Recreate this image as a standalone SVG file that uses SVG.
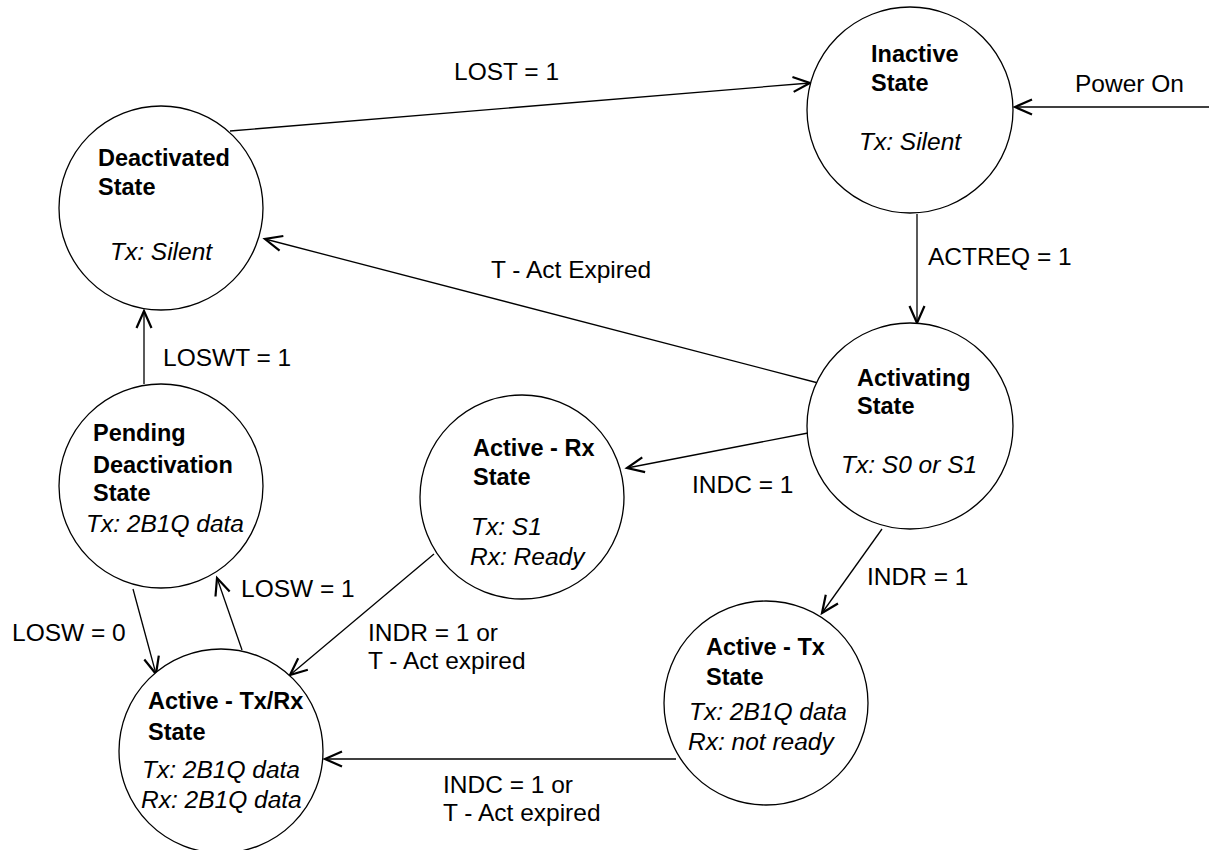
<svg xmlns="http://www.w3.org/2000/svg" width="1209" height="850" viewBox="0 0 1209 850">
  <style>
    .state { fill: #fff; stroke: #000; stroke-width: 1.3; }
    .title { font-family: "Liberation Sans", Arial, sans-serif; font-size: 23.5px; font-weight: bold; fill: #000; }
    .info { font-family: "Liberation Sans", Arial, sans-serif; font-size: 24.5px; font-style: italic; fill: #000; }
    .label { font-family: "Liberation Sans", Arial, sans-serif; font-size: 24.5px; fill: #000; }
    .edge { fill: none; stroke: #000; stroke-width: 1.3; marker-end: url(#arrow); }
  </style>
  <defs>
    <marker id="arrow" viewBox="-20 -10 22 20" refX="0" refY="0" markerWidth="22" markerHeight="20" orient="auto" markerUnits="userSpaceOnUse" overflow="visible">
      <path d="M-17,-7.5 L0,0 L-17,7.5" fill="none" stroke="#000" stroke-width="2.2" stroke-linejoin="miter"/>
    </marker>
  </defs>
  <rect width="1209" height="850" fill="#fff"/>

  <!-- transitions -->
  <g id="connectors">
    <line class="edge" x1="230" y1="131" x2="810" y2="83"/>
    <line class="edge" x1="1209" y1="107" x2="1015" y2="107"/>
    <line class="edge" x1="917" y1="214" x2="917" y2="323"/>
    <line class="edge" x1="822" y1="384" x2="265" y2="239"/>
    <line class="edge" x1="808" y1="433" x2="627" y2="468"/>
    <line class="edge" x1="882" y1="529" x2="822" y2="613"/>
    <line class="edge" x1="144" y1="384" x2="144" y2="311"/>
    <line class="edge" x1="242" y1="650" x2="217" y2="578"/>
    <line class="edge" x1="133" y1="589" x2="156" y2="674"/>
    <line class="edge" x1="434" y1="554" x2="290" y2="675"/>
    <line class="edge" x1="676" y1="759" x2="325" y2="759"/>

    <text class="label" x="454" y="80">LOST = 1</text>
    <text class="label" x="1075" y="92">Power On</text>
    <text class="label" x="928" y="265">ACTREQ = 1</text>
    <text class="label" x="491" y="278">T - Act Expired</text>
    <text class="label" x="692" y="493">INDC = 1</text>
    <text class="label" x="867" y="585">INDR = 1</text>
    <text class="label" x="163" y="366">LOSWT = 1</text>
    <text class="label" x="241" y="597">LOSW = 1</text>
    <text class="label" x="12" y="641">LOSW = 0</text>
    <text class="label" x="368" y="641">INDR = 1 or</text>
    <text class="label" x="368" y="669">T - Act expired</text>
    <text class="label" x="443" y="793">INDC = 1 or</text>
    <text class="label" x="443" y="821">T - Act expired</text>
  </g>

  <g id="deactivated">
    <circle class="state" cx="161" cy="208" r="102"/>
    <text class="title" x="98" y="166">Deactivated</text>
    <text class="title" x="98" y="195">State</text>
    <text class="info" x="110" y="260">Tx: Silent</text>
  </g>

  <g id="inactive">
    <circle class="state" cx="910" cy="110" r="103"/>
    <text class="title" x="871" y="62">Inactive</text>
    <text class="title" x="871" y="91">State</text>
    <text class="info" x="859" y="150">Tx: Silent</text>
  </g>

  <g id="activating">
    <circle class="state" cx="910" cy="426" r="103"/>
    <text class="title" x="857" y="386">Activating</text>
    <text class="title" x="857" y="414">State</text>
    <text class="info" x="841" y="473">Tx: S0 or S1</text>
  </g>

  <g id="active-rx">
    <circle class="state" cx="522" cy="497" r="102"/>
    <text class="title" x="473" y="456">Active - Rx</text>
    <text class="title" x="473" y="485">State</text>
    <text class="info" x="471" y="535">Tx: S1</text>
    <text class="info" x="470" y="565">Rx: Ready</text>
  </g>

  <g id="pending-deactivation">
    <circle class="state" cx="161" cy="486" r="102"/>
    <text class="title" x="93" y="441">Pending</text>
    <text class="title" x="93" y="473">Deactivation</text>
    <text class="title" x="93" y="501">State</text>
    <text class="info" x="86" y="532">Tx: 2B1Q data</text>
  </g>

  <g id="active-tx">
    <circle class="state" cx="766" cy="703" r="102"/>
    <text class="title" x="706" y="655">Active - Tx</text>
    <text class="title" x="706" y="685">State</text>
    <text class="info" x="689" y="720">Tx: 2B1Q data</text>
    <text class="info" x="688" y="750">Rx: not ready</text>
  </g>

  <g id="active-txrx">
    <circle class="state" cx="221" cy="751" r="102"/>
    <text class="title" x="148" y="709">Active - Tx/Rx</text>
    <text class="title" x="148" y="740">State</text>
    <text class="info" x="142" y="778">Tx: 2B1Q data</text>
    <text class="info" x="141" y="808">Rx: 2B1Q data</text>
  </g>
</svg>
